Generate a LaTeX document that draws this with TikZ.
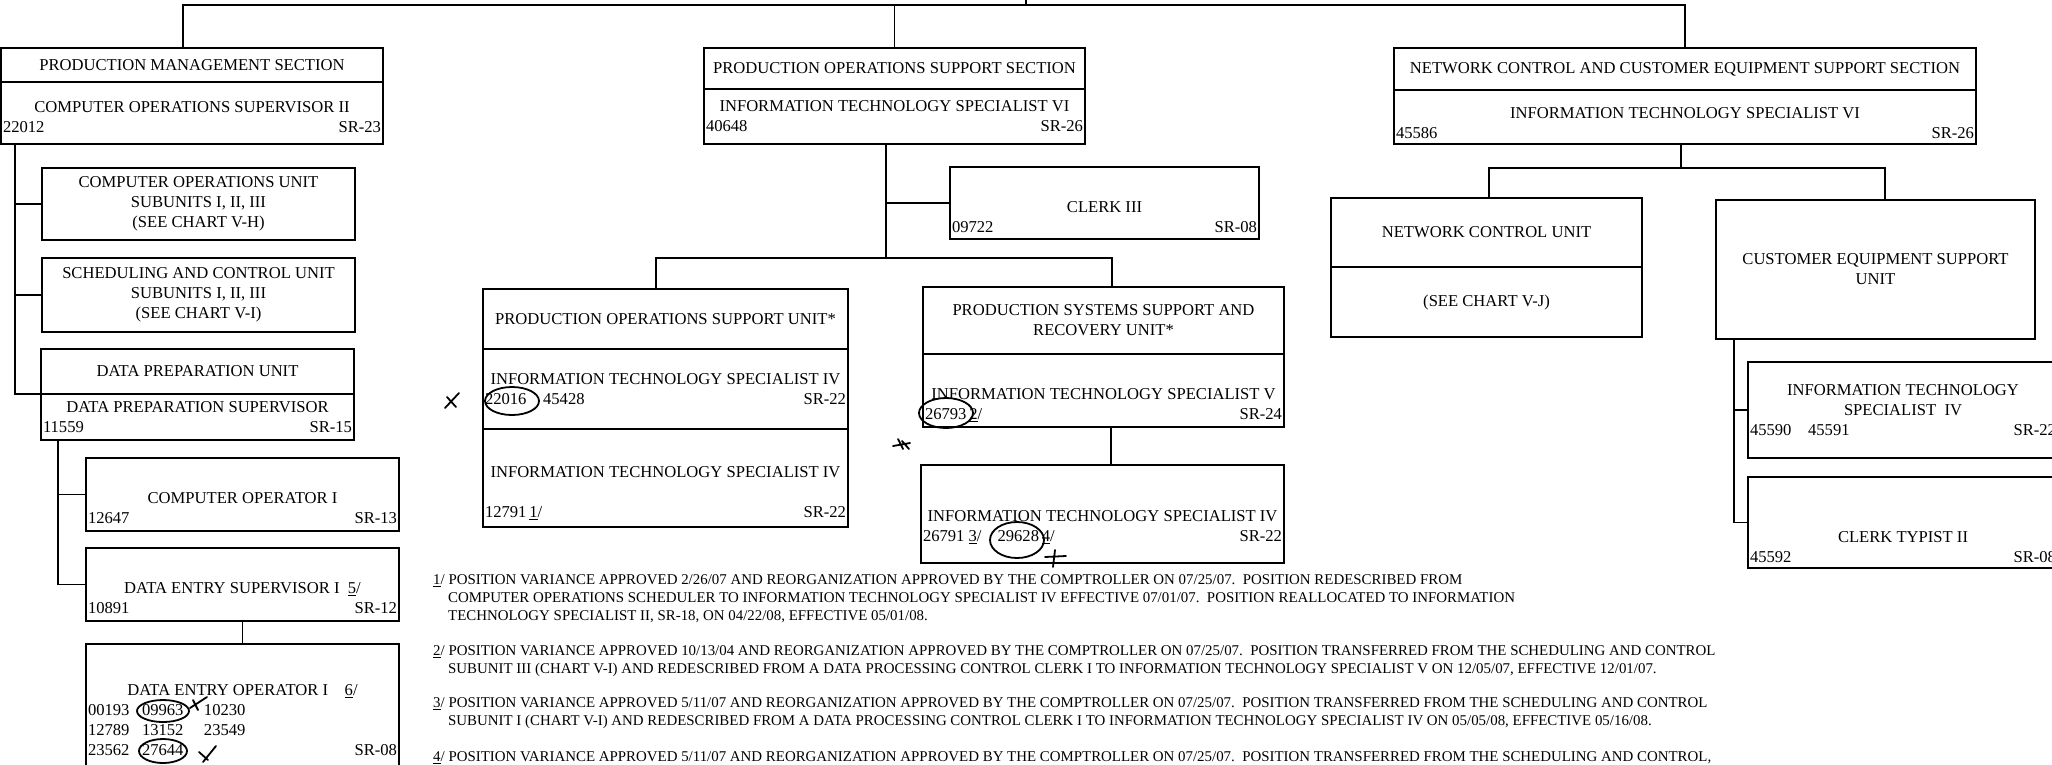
\documentclass[tikz,border=0pt]{standalone}
\usepackage{fontspec}
\setmainfont{Liberation Serif}
\usetikzlibrary{positioning}
\newcommand{\boxfont}{\fontsize{16.6}{20}\selectfont}
\newcommand{\notefont}{\fontsize{14.9}{18}\selectfont}
\newcommand{\posrow}[3]{\hbox to #1{#2\hfil #3}}
\tikzset{cell/.style 2 args={draw,line width=1.9pt,outer sep=0pt,inner sep=0pt,minimum width=#1,minimum height=#2,align=center,font=\boxfont},
  txt/.style={align=center,font=\boxfont,inner sep=0pt},
  link/.style={line width=1.9pt},
  note/.style={anchor=north west,align=left,font=\notefont,inner sep=0pt},
  pen/.style={line width=1.8pt,line cap=round}}

\begin{document}
\begin{tikzpicture}[x=1pt,y=-1pt]
\path[use as bounding box,fill=white] (0,0) rectangle (2052,764);

% production management section
\node[cell={382pt}{34pt}] (pmshd) at (192,65) {PRODUCTION MANAGEMENT SECTION};
\node[cell={382pt}{62pt},below=0pt of pmshd] (pmssub) {};
\node[txt] (pmssubt) at (192,117) {COMPUTER OPERATIONS SUPERVISOR II\\\posrow{378pt}{22012}{SR-23}};
\node[cell={313pt}{72pt}] (cou) at (198.5,204) {COMPUTER OPERATIONS UNIT\\SUBUNITS I, II, III\\(SEE CHART V-H)};
\node[cell={313pt}{74pt}] (scu) at (198.5,295) {SCHEDULING AND CONTROL UNIT\\SUBUNITS I, II, III\\(SEE CHART V-I)};
\node[cell={313pt}{45pt}] (dpu) at (197.5,371.5) {DATA PREPARATION UNIT};
\node[cell={313pt}{46pt},below=0pt of dpu] (dps) {DATA PREPARATION SUPERVISOR\\\posrow{309pt}{11559}{SR-15}};
\node[cell={313pt}{73pt}] (coi) at (242.5,494.5) {};
\node[txt] (coit) at (242.5,508) {COMPUTER OPERATOR I\\\posrow{309pt}{12647}{SR-13}};
\node[cell={313pt}{73pt}] (des) at (242.5,584.5) {};
\node[txt] (dest) at (242.5,598) {DATA ENTRY SUPERVISOR I\ \ \underline{5}/\\\posrow{309pt}{10891}{SR-12}};
\node[cell={313pt}{152pt}] (deo) at (242.5,720) {DATA ENTRY OPERATOR I\quad\underline{6}/\\
  \posrow{309pt}{\makebox[54pt][l]{00193}\makebox[62pt][l]{09963}10230}{}\\
  \posrow{309pt}{\makebox[54pt][l]{12789}\makebox[62pt][l]{13152}23549}{}\\
  \posrow{309pt}{\makebox[54pt][l]{23562}27644}{SR-08}};

% production operations support section
\node[cell={381pt}{41pt}] (posshd) at (894.5,68.5) {PRODUCTION OPERATIONS SUPPORT SECTION};
\node[cell={381pt}{55pt},below=0pt of posshd] (posssub) {INFORMATION TECHNOLOGY SPECIALIST VI\\\posrow{377pt}{40648}{SR-26}};
\node[cell={309pt}{72pt}] (clerk) at (1104.5,203) {};
\node[txt] (clerkt) at (1104.5,217.5) {CLERK III\\\posrow{305pt}{09722}{SR-08}};
\node[cell={365pt}{60pt}] (posuhd) at (665.5,319) {PRODUCTION OPERATIONS SUPPORT UNIT*};
\node[cell={365pt}{80pt},below=0pt of posuhd] (posub) {INFORMATION TECHNOLOGY SPECIALIST IV\\\posrow{361pt}{22016\quad 45428}{SR-22}};
\node[cell={365pt}{98pt},below=0pt of posub] (posuc) {};
\node[txt] (posuct) at (665.5,493) {INFORMATION TECHNOLOGY SPECIALIST IV\\[20pt]\posrow{361pt}{12791\,\underline{1}/}{SR-22}};
\node[cell={361pt}{67pt}] (pssruhd) at (1103.5,320.5) {PRODUCTION SYSTEMS SUPPORT AND\\RECOVERY UNIT*};
\node[cell={361pt}{73pt},below=0pt of pssruhd] (pssrub) {};
\node[txt] (pssrubt) at (1103.5,405) {INFORMATION TECHNOLOGY SPECIALIST V\\\posrow{357pt}{26793\,\underline{2}/}{SR-24}};
\node[cell={363pt}{98pt}] (its4) at (1102.5,514) {};
\node[txt] (its4t) at (1102.5,527) {INFORMATION TECHNOLOGY SPECIALIST IV\\\posrow{359pt}{26791 \underline{3}/\hspace{16pt}29628\,\underline{4}/}{SR-22}};

% network control and customer equipment support section
\node[cell={582pt}{42pt}] (ncchd) at (1685,69) {NETWORK CONTROL AND CUSTOMER EQUIPMENT SUPPORT SECTION};
\node[cell={582pt}{54pt},below=0pt of ncchd] (nccsub) {};
\node[txt] (nccsubt) at (1685,123) {INFORMATION TECHNOLOGY SPECIALIST VI\\\posrow{578pt}{45586}{SR-26}};
\node[cell={311pt}{69pt}] (ncuhd) at (1486.5,232.5) {NETWORK CONTROL UNIT};
\node[cell={311pt}{70pt},below=0pt of ncuhd] (ncub) {(SEE CHART V-J)};
\node[cell={319pt}{139pt}] (cesu) at (1875.5,269.5) {CUSTOMER EQUIPMENT SUPPORT\\UNIT};
\node[cell={310pt}{96pt}] (its4r) at (1903,410) {INFORMATION TECHNOLOGY\\SPECIALIST\ \ IV\\\posrow{306pt}{45590\quad 45591}{SR-22}};
\node[cell={310pt}{91pt}] (ctyp) at (1903,522.5) {};
\node[txt] (ctypt) at (1903,547) {CLERK TYPIST II\\\posrow{306pt}{45592}{SR-08}};

% connectors
\coordinate (trunk) at (1026,0);
\coordinate (bus) at (1026,5);
\draw[link] (trunk) -- (bus);
\draw[link] ([xshift=-9pt]pmshd.north) |- (bus) -| (ncchd.north);
\draw[link] (posshd.north) -- (posshd.north |- bus);
\coordinate (pmsspine) at ([xshift=14pt]pmssub.south west);
\draw[link] (pmsspine) |- (cou.west) (pmsspine) |- (scu.west) (pmsspine) |- (dps.north west);
\coordinate (dpsspine) at ([xshift=17pt]dps.south west);
\draw[link] (dpsspine) |- (coi.west) (dpsspine) |- (des.west);
\draw[link] (des.south) -- (deo.north);
\coordinate (possspine) at ([xshift=-8.5pt]posssub.south);
\coordinate (posbus) at (886,258);
\draw[link] (possspine) -- (posbus) (possspine) |- (clerk.west);
\draw[link] ([xshift=-9.5pt]posuhd.north) |- (posbus) -| ([xshift=8.5pt]pssruhd.north);
\draw[link] ([xshift=7.5pt]pssrub.south) -- ([xshift=8.5pt]its4.north);
\coordinate (nccbus) at (1681,168);
\draw[link] ([xshift=-4pt]nccsub.south) -- (nccbus);
\draw[link] ([xshift=2.5pt]ncuhd.north) |- (nccbus) -| ([xshift=9.5pt]cesu.north);
\coordinate (cesuspine) at ([xshift=18pt]cesu.south west);
\draw[link] (cesuspine) |- (its4r.west) (cesuspine) |- (ctyp.west);

% footnotes
\node[note] (fn1) at (433,574.5) {\underline{1}/ POSITION VARIANCE APPROVED 2/26/07 AND REORGANIZATION APPROVED BY THE COMPTROLLER ON 07/25/07.\ \ POSITION REDESCRIBED FROM\\
  \hspace*{15pt}COMPUTER OPERATIONS SCHEDULER TO INFORMATION TECHNOLOGY SPECIALIST IV EFFECTIVE 07/01/07.\ \ POSITION REALLOCATED TO INFORMATION\\
  \hspace*{15pt}TECHNOLOGY SPECIALIST II, SR-18, ON 04/22/08, EFFECTIVE 05/01/08.};
\node[note] (fn2) at (433,645.5) {\underline{2}/ POSITION VARIANCE APPROVED 10/13/04 AND REORGANIZATION APPROVED BY THE COMPTROLLER ON 07/25/07.\ \ POSITION TRANSFERRED FROM THE SCHEDULING AND CONTROL\\
  \hspace*{15pt}SUBUNIT III (CHART V-I) AND REDESCRIBED FROM A DATA PROCESSING CONTROL CLERK I TO INFORMATION TECHNOLOGY SPECIALIST V ON 12/05/07, EFFECTIVE 12/01/07.};
\node[note] (fn3) at (433,697.5) {\underline{3}/ POSITION VARIANCE APPROVED 5/11/07 AND REORGANIZATION APPROVED BY THE COMPTROLLER ON 07/25/07.\ \ POSITION TRANSFERRED FROM THE SCHEDULING AND CONTROL\\
  \hspace*{15pt}SUBUNIT I (CHART V-I) AND REDESCRIBED FROM A DATA PROCESSING CONTROL CLERK I TO INFORMATION TECHNOLOGY SPECIALIST IV ON 05/05/08, EFFECTIVE 05/16/08.};
\node[note] (fn4) at (433,751.5) {\underline{4}/ POSITION VARIANCE APPROVED 5/11/07 AND REORGANIZATION APPROVED BY THE COMPTROLLER ON 07/25/07.\ \ POSITION TRANSFERRED FROM THE SCHEDULING AND CONTROL,};

% pen marks
\draw[pen] (163,711) ellipse [x radius=26pt,y radius=11pt];
\draw[pen] (163,751) ellipse [x radius=24pt,y radius=12pt];
\draw[pen] (512,401) ellipse [x radius=27pt,y radius=14pt];
\draw[pen] (946,413) ellipse [x radius=27pt,y radius=15pt];
\draw[pen] (1017,540) ellipse [x radius=27pt,y radius=18pt];
\draw[pen] (207,697) -- (190,708) (193,700) -- (198,710);
\draw[pen] (199,752) -- (208,760) (203,762) -- (216,746);
\draw[pen] (445,408) -- (459,393) (447,397) -- (456,407);
\draw[pen] (893,446) -- (910,443) (898,439) -- (903,449) (902,441) -- (909,449);
\draw[pen] (1045,557) -- (1066,556) (1055,550) -- (1053,567);
\end{tikzpicture}
\end{document}
